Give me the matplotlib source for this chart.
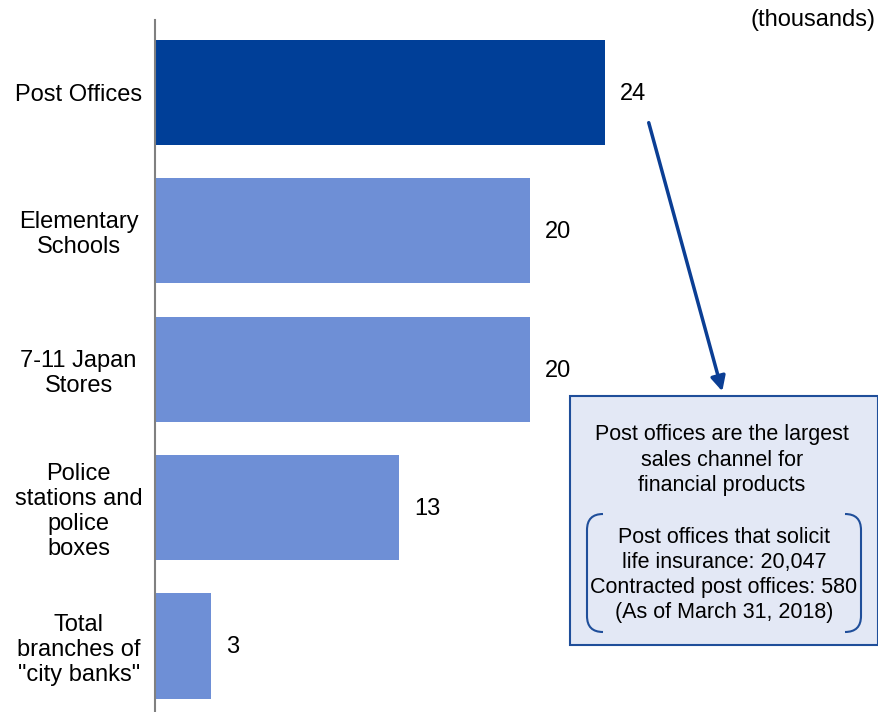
import numpy as np
import matplotlib.pyplot as plt
from matplotlib.patches import FancyArrowPatch, Rectangle
from matplotlib.path import Path
from matplotlib.patches import PathPatch

plt.rcParams['font.family'] = ['Liberation Sans', 'DejaVu Sans']

categories = ['Post Offices', 'Elementary\nSchools', '7-11 Japan\nStores',
              'Police\nstations and\npolice\nboxes', 'Total\nbranches of\n"city banks"']
values = [24, 20, 20, 13, 3]
colors = ['#003F98', '#6E8FD6', '#6E8FD6', '#6E8FD6', '#6E8FD6']

W, H = 879, 712
FS = 17
FS_BOX = 15.5
fig = plt.figure(figsize=(W / 100, H / 100), dpi=100)
ax = fig.add_axes([155 / W, 0, 1 - 155 / W, (H - 20) / H])

y = np.arange(len(categories))
ax.barh(y, values, height=0.76, color=colors)
ax.set_ylim(4.477, -0.523)
ax.set_xlim(0, (W - 155) / 18.75)

for yi, v in zip(y, values):
    ax.annotate(str(v), (v, yi), xytext=(11, -1), textcoords='offset points',
                va='center', ha='left', fontsize=FS)

ax.set_yticks(y)
ax.set_yticklabels(categories, fontsize=FS, ha='center', linespacing=1.17)
ax.tick_params(axis='y', length=0, pad=55)
ax.set_xticks([])
for s in ['top', 'right', 'bottom']:
    ax.spines[s].set_visible(False)
ax.spines['left'].set_color('#808080')
ax.spines['left'].set_linewidth(1.5)


def fx(px):
    return px / W


def fy(py):
    return 1 - py / H


fig.text(fx(876), fy(20), '(thousands)', ha='right', va='center', fontsize=FS)

# callout box
box = Rectangle((fx(570), fy(645)), fx(878) - fx(570), fy(396) - fy(645),
                transform=fig.transFigure, facecolor='#E3E8F5',
                edgecolor='#1F4E9A', linewidth=1.5)
fig.add_artist(box)

arrow = FancyArrowPatch((fx(648), fy(120)), (fx(723), fy(394)),
                        transform=fig.transFigure, arrowstyle='-|>',
                        mutation_scale=22, color='#0B3E94', linewidth=2.5)
fig.add_artist(arrow)

fig.text(fx(722), fy(460), 'Post offices are the largest\nsales channel for\nfinancial products',
         ha='center', va='center', fontsize=FS_BOX, linespacing=1.27)
fig.text(fx(724), fy(575), 'Post offices that solicit\nlife insurance: 20,047\n'
         'Contracted post offices: 580\n(As of March 31, 2018)',
         ha='center', va='center', fontsize=FS_BOX, linespacing=1.27)

# curly brackets around the detail lines
for x0, x1 in [(603, 587), (845, 861)]:
    verts = [(fx(x0), fy(514)), (fx(x1), fy(514)), (fx(x1), fy(530)),
             (fx(x1), fy(616)), (fx(x1), fy(632)), (fx(x0), fy(632))]
    codes = [Path.MOVETO, Path.CURVE3, Path.CURVE3,
             Path.LINETO, Path.CURVE3, Path.CURVE3]
    fig.add_artist(PathPatch(Path(verts, codes), transform=fig.transFigure,
                             fill=False, edgecolor='#1F4E9A', linewidth=1.5))

fig.savefig('out.png', dpi=100)
